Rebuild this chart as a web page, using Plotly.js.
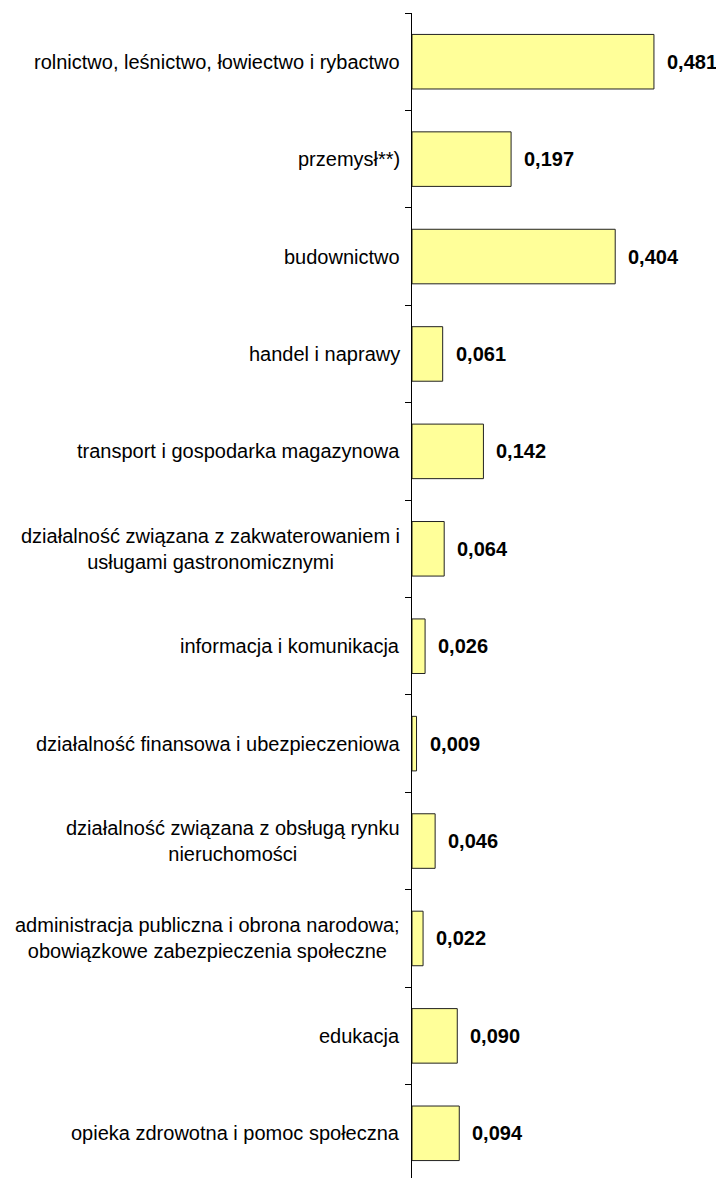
<!DOCTYPE html>
<html>
<head>
<meta charset="utf-8">
<script src="https://cdn.plot.ly/plotly-3.0.1.min.js"></script>
<style>
html, body { margin: 0; padding: 0; overflow: hidden; background: #fff; }
#chart { width: 716px; height: 1190px; }
</style>
</head>
<body>
<div id="chart"></div>
<script>
var categories = [
  "rolnictwo, leśnictwo, łowiectwo i rybactwo",
  "przemysł**)",
  "budownictwo",
  "handel i naprawy",
  "transport i gospodarka magazynowa",
  "działalność związana z zakwaterowaniem i<br>usługami gastronomicznymi",
  "informacja i komunikacja",
  "działalność finansowa i ubezpieczeniowa",
  "działalność związana z obsługą rynku<br>nieruchomości",
  "administracja publiczna i obrona narodowa;<br>obowiązkowe zabezpieczenia społeczne",
  "edukacja",
  "opieka zdrowotna i pomoc społeczna"
];
var values = [0.481, 0.197, 0.404, 0.061, 0.142, 0.064, 0.026, 0.009, 0.046, 0.022, 0.090, 0.094];

var fontFam = "Liberation Sans, Arial, sans-serif";

var annotations = [];
categories.forEach(function (c, i) {
  annotations.push({
    xref: "paper", yref: "y", x: 0, y: c,
    text: c, showarrow: false, xanchor: "right", yanchor: "middle",
    align: "center", xshift: -10,
    font: { family: fontFam, size: 20, color: "#000" }
  });
  annotations.push({
    xref: "x", yref: "y", x: values[i], y: c,
    text: "<b>" + values[i].toFixed(3).replace(".", ",") + "</b>",
    showarrow: false, xanchor: "left", yanchor: "middle", xshift: 11,
    font: { family: fontFam, size: 20, color: "#000" }
  });
});

var trace = {
  type: "bar",
  orientation: "h",
  y: categories,
  x: values,
  width: 0.56,
  marker: { color: "#FFFF99", line: { color: "#222222", width: 1 } },
  hoverinfo: "none",
  cliponaxis: false
};

var layout = {
  width: 716,
  height: 1190,
  margin: { l: 412, r: 4, t: 13, b: 8 },
  paper_bgcolor: "#ffffff",
  plot_bgcolor: "#ffffff",
  showlegend: false,
  xaxis: {
    range: [0, 300 / 503],
    visible: false,
    fixedrange: true
  },
  yaxis: {
    type: "category",
    categoryorder: "array",
    categoryarray: categories,
    autorange: "reversed",
    showline: true,
    linecolor: "#000",
    linewidth: 1,
    ticks: "outside",
    ticklen: 6,
    tickcolor: "#000",
    tickwidth: 1,
    tickson: "boundaries",
    showticklabels: false,
    showgrid: false,
    zeroline: false,
    fixedrange: true
  },
  annotations: annotations
};

Plotly.newPlot("chart", [trace], layout, { displayModeBar: false, staticPlot: true });
</script>
</body>
</html>
